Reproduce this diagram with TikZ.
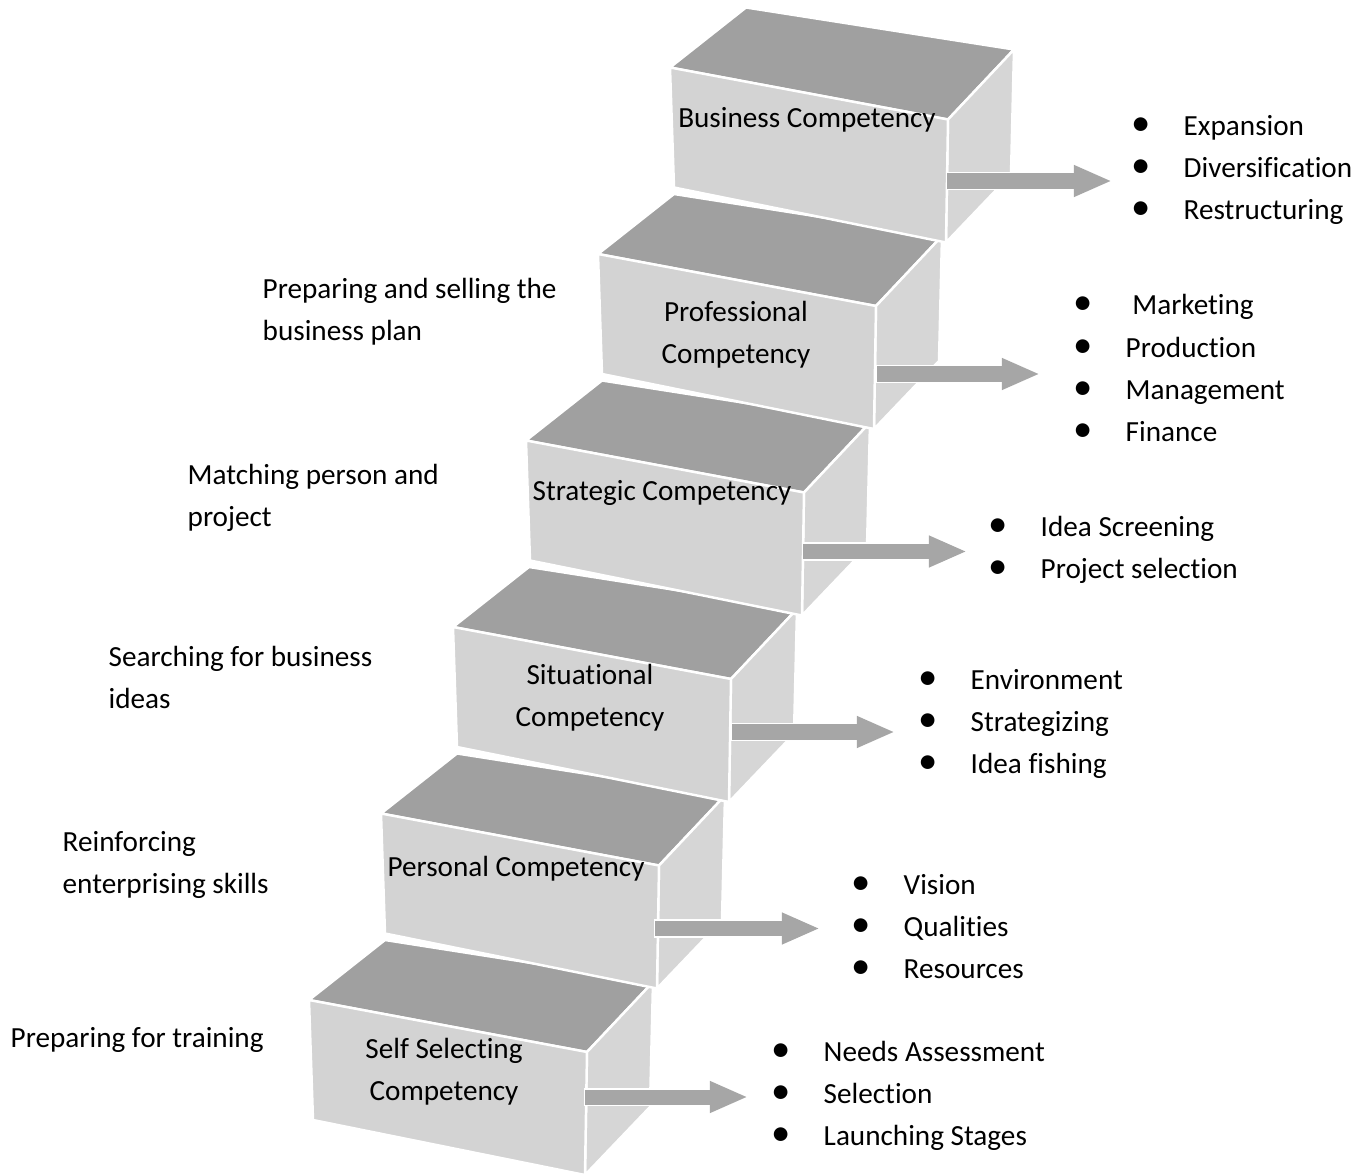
\documentclass[tikz,border=0pt]{standalone}
\usepackage{fontspec}
\setmainfont{Carlito}[Ligatures=NoCommon]
\usepackage{tikz}
\usetikzlibrary{arrows.meta}

\definecolor{topgray}{HTML}{A0A0A0}
\definecolor{facegray}{HTML}{D3D3D3}
\definecolor{sidegray}{HTML}{D6D6D6}
\definecolor{arrowgray}{HTML}{A6A6A6}

\newcommand{\itembullet}{\makebox[0.3cm]{\fontsize{11}{11.95}\selectfont\textbullet}\hspace{0.28cm}}

\begin{document}
\begin{tikzpicture}[x=0.01cm, y=-0.01cm,
  every node/.style={font=\fontsize{8.3}{11.95}\selectfont, inner sep=0pt},
  boxtext/.style={align=center, yshift=-0.02cm},
  sidetext/.style={align=left, anchor=west, yshift=-0.02cm},
  itemlist/.style={align=left, anchor=west, yshift=-0.02cm},
  face/.style={draw=white, line width=0.7pt, line join=round},
  blockarrow/.style={draw=arrowgray, line width=0.15cm, -{Triangle[length=0.38cm, width=0.29cm]},
    preaction={draw=white, line width=0.18cm, shorten <=-0.015cm, -{Triangle[length=0.41cm, width=0.33cm]}}},
  cbox/.pic={
    \filldraw[face, fill=topgray] (0,0) -- (76,-60) -- (344,-18) -- (278,52) -- cycle;
    \filldraw[face, fill=sidegray] (278,52) -- (344,-18) -- (341,107) -- (276,175) -- cycle;
    \filldraw[face, fill=facegray] (0,0) -- (278,52) -- (276,175) -- (4,120) -- cycle;
  }]

\useasboundingbox (0,0) rectangle (1369,1176);

% the steps, from the bottom up
\pic at (309,1000) {cbox};
\node[boxtext] (self) at (444,1070) {Self Selecting\\Competency};
\pic at (381,813.5) {cbox};
\node[boxtext] (personal) at (516,867) {Personal Competency};
\pic at (453,627) {cbox};
\node[boxtext] (situational) at (590,696) {Situational\\Competency};
\pic at (526,440.5) {cbox};
\node[boxtext] (strategic) at (662,491) {Strategic Competency};
\pic at (598,254) {cbox};
\node[boxtext] (professional) at (736,333) {Professional\\Competency};
\pic at (670,67.5) {cbox};
\node[boxtext] (business) at (807,118) {Business Competency};

% left side
\node[sidetext] (prep) at (10,1038) {Preparing for training};
\node[sidetext] (reinf) at (62,863) {Reinforcing\\enterprising skills};
\node[sidetext] (search) at (108,675) {Searching for business\\ideas};
\node[sidetext] (match) at (187,495.5) {Matching person and\\project};
\node[sidetext] (plan) at (262,310) {Preparing and selling the\\business plan};

% right side
\node[itemlist] (selfitems) at (765,1093.5) {\itembullet Needs Assessment\\\itembullet Selection\\\itembullet Launching Stages};
\node[itemlist] (personalitems) at (845,924.5) {\itembullet Vision\\\itembullet Qualities\\\itembullet Resources};
\node[itemlist] (situationalitems) at (912,721.5) {\itembullet Environment\\\itembullet Strategizing\\\itembullet Idea fishing};
\node[itemlist] (strategicitems) at (982,547.5) {\itembullet Idea Screening\\\itembullet Project selection};
\node[itemlist] (professionalitems) at (1067,366) {\itembullet\ Marketing\\\itembullet Production\\\itembullet Management\\\itembullet Finance};
\node[itemlist] (businessitems) at (1125,168) {\itembullet Expansion\\\itembullet Diversification\\\itembullet Restructuring};

% arrows
\coordinate (self-s) at (585,1097);
\coordinate (self-t) at (748,1097);
\coordinate (personal-s) at (655,928.5);
\coordinate (personal-t) at (820,928.5);
\coordinate (situational-s) at (732,732);
\coordinate (situational-t) at (895,732);
\coordinate (strategic-s) at (803,551.5);
\coordinate (strategic-t) at (967,551.5);
\coordinate (professional-s) at (877,374);
\coordinate (professional-t) at (1040,374);
\coordinate (business-s) at (947,181);
\coordinate (business-t) at (1112,181);

\draw[blockarrow] (self-s) -- (self-t);
\draw[blockarrow] (personal-s) -- (personal-t);
\draw[blockarrow] (situational-s) -- (situational-t);
\draw[blockarrow] (strategic-s) -- (strategic-t);
\draw[blockarrow] (professional-s) -- (professional-t);
\draw[blockarrow] (business-s) -- (business-t);

\end{tikzpicture}
\end{document}
